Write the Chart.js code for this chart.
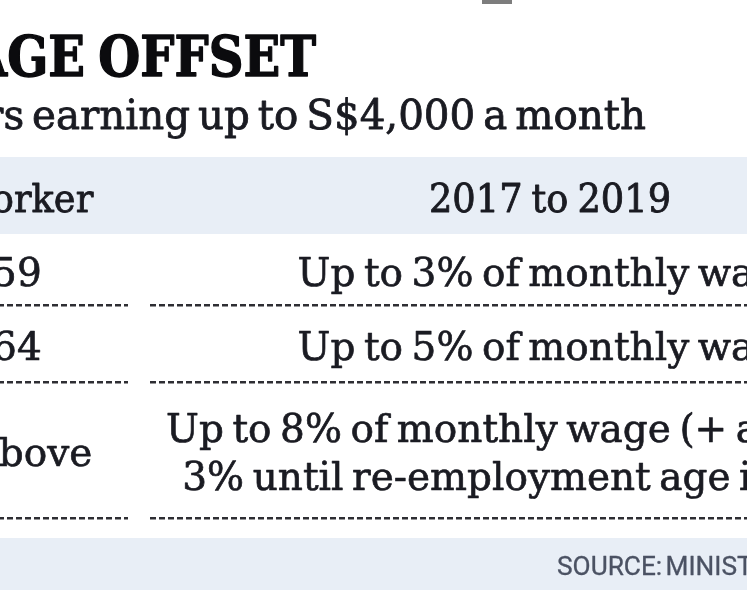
<!DOCTYPE html>
<html>
<head>
<meta charset="utf-8">
<script src="https://cdn.jsdelivr.net/npm/chart.js@4.4.1/dist/chart.umd.min.js"></script>
<style>
  html, body { margin: 0; padding: 0; background: #ffffff; }
  #wrap { width: 747px; height: 598px; position: relative; overflow: hidden; }
</style>
</head>
<body>
<div id="wrap"><canvas id="c"></canvas></div>
<script>
// ---------- DATA ----------
const titleText = "WAGE OFFSET";
const subtitleText = "For workers earning up to S$4,000 a month";
const columns = ["Age of worker", "2017 to 2019"];
const ageGroups = ["55 to 59", "60 to 64", "65 and above"];
const offsets2017 = [
  ["Up to 3% of monthly wage"],
  ["Up to 5% of monthly wage"],
  ["Up to 8% of monthly wage (+ additional", "3% until re-employment age is raised)"]
];
const sourceText = "SOURCE: MINISTRY OF FINANCE";

// ---------- LAYOUT (table geometry, in scale units) ----------
const COL_CENTER = [-36, 550];
const COL_SPAN = [[-200, 128], [150, 960]];
const ROW_EDGES = [157, 234, 305, 382, 518];
const FOOT_BAND = [538, 590];
const LINE_H = 48;

const BODY_FONT = "40px 'DejaVu Serif'";
const BODY_STYLE = { sx: 0.975, ws: -4, stroke: 0.7 };
const HEAD_STYLE = { sx: 0.92, ws: -3, stroke: 0.9 };
const TEXT_COLOR = "#1a1b22";
const BAND_COLOR = "#e8eef6";

function rowCenter(r) { return (ROW_EDGES[r] + ROW_EDGES[r + 1]) / 2; }

const cells = [];
columns.forEach((t, c) => cells.push({ x: COL_CENTER[c], y: rowCenter(0), lines: [t], head: true }));
ageGroups.forEach((t, r) => {
  cells.push({ x: COL_CENTER[0], y: rowCenter(r + 1), lines: [t] });
  cells.push({ x: COL_CENTER[1], y: rowCenter(r + 1), lines: offsets2017[r] });
});

function drawText(ctx, text, x, y, font, style, align, color) {
  ctx.save();
  ctx.font = font;
  if ("wordSpacing" in ctx) ctx.wordSpacing = (style.ws || 0) + "px";
  ctx.fillStyle = color;
  ctx.strokeStyle = color;
  ctx.textBaseline = "alphabetic";
  ctx.textAlign = align;
  ctx.translate(x, y);
  ctx.scale(style.sx, 1);
  ctx.fillText(text, 0, 0);
  if (style.stroke) {
    ctx.lineWidth = style.stroke;
    ctx.lineJoin = "round";
    ctx.strokeText(text, 0, 0);
  }
  ctx.restore();
}

const tablePlugin = {
  id: "tablePlugin",
  beforeDatasetsDraw(chart) {
    const ctx = chart.ctx;
    const xs = chart.scales.x, ys = chart.scales.y;
    const X = v => xs.getPixelForValue(v), Y = v => ys.getPixelForValue(v);
    ctx.save();
    // faint mark at top (remnant of graphic above)
    ctx.fillStyle = "#7d7d7d";
    ctx.fillRect(X(482), Y(0), X(512) - X(482), Y(4) - Y(0));
    // header band
    ctx.fillStyle = BAND_COLOR;
    ctx.fillRect(X(0), Y(ROW_EDGES[0]), X(747) - X(0), Y(ROW_EDGES[1]) - Y(ROW_EDGES[0]));
    // footer band
    ctx.fillRect(X(0), Y(FOOT_BAND[0]), X(747) - X(0), Y(FOOT_BAND[1]) - Y(FOOT_BAND[0]));
    // dashed row separators
    ctx.strokeStyle = "#2e2e33";
    ctx.lineWidth = 2.5;
    ctx.setLineDash([6, 3]);
    for (let r = 2; r < ROW_EDGES.length; r++) {
      const y = Math.round(Y(ROW_EDGES[r])) + 0.25;
      COL_SPAN.forEach(([a, b]) => {
        ctx.beginPath();
        ctx.moveTo(X(a), y);
        ctx.lineTo(X(b), y);
        ctx.stroke();
      });
    }
    ctx.restore();
  },
  afterDatasetsDraw(chart) {
    const ctx = chart.ctx;
    const xs = chart.scales.x, ys = chart.scales.y;
    const X = v => xs.getPixelForValue(v), Y = v => ys.getPixelForValue(v);
    // title & subtitle
    drawText(ctx, titleText, X(316), Y(76), "bold 56px 'DejaVu Serif'", { sx: 0.86, ws: -4, stroke: 1.4 }, "right", "#0b0b0e");
    drawText(ctx, subtitleText, X(646), Y(129), "41px 'DejaVu Serif'", { sx: 0.985, ws: -5, stroke: 0.8 }, "right", TEXT_COLOR);
    // cells via dataset elements
    const meta = chart.getDatasetMeta(0);
    meta.data.forEach((el, i) => {
      const cell = cells[i];
      const n = cell.lines.length;
      const style = cell.head ? HEAD_STYLE : BODY_STYLE;
      cell.lines.forEach((line, k) => {
        const yy = el.y + 16 + (k - (n - 1) / 2) * LINE_H;
        drawText(ctx, line, el.x, yy, BODY_FONT, style, "center", TEXT_COLOR);
      });
    });
    // source
    drawText(ctx, sourceText, X(557), Y(575), "25px Roboto", { sx: 1.05, ws: -3, stroke: 0.3 }, "left", "#4b5263");
  }
};

new Chart(document.getElementById("c"), {
  type: "scatter",
  data: { datasets: [{ data: cells, pointRadius: 0, pointHoverRadius: 0, showLine: false }] },
  options: {
    responsive: true,
    maintainAspectRatio: false,
    animation: false,
    events: [],
    layout: { padding: 0 },
    plugins: { legend: { display: false }, tooltip: { enabled: false }, title: { display: false } },
    scales: {
      x: { type: "linear", min: 0, max: 747, display: false },
      y: { type: "linear", min: 0, max: 598, reverse: true, display: false }
    }
  },
  plugins: [tablePlugin]
});
</script>
</body>
</html>
